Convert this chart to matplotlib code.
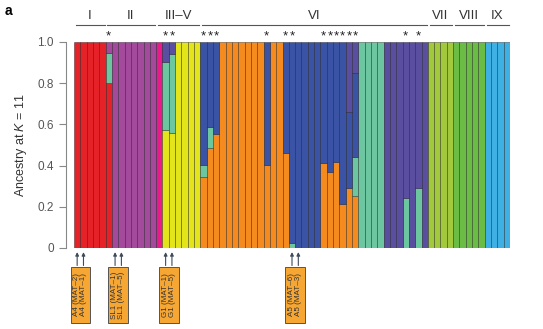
import numpy as np
import pandas as pd
import matplotlib.pyplot as plt
from matplotlib.patches import Rectangle

plt.rcParams['font.family'] = ['Liberation Sans', 'DejaVu Sans']
plt.rcParams['mathtext.fontset'] = 'custom'
plt.rcParams['mathtext.rm'] = 'Liberation Sans'
plt.rcParams['mathtext.it'] = 'Liberation Sans:italic'

# ancestry clusters in stacking order (bottom -> top)
clusters = ['red', 'magenta', 'yellow', 'orange', 'teal', 'blue',
            'purple', 'indigo', 'lime', 'green', 'sky']
colors = {'red': '#e52228', 'magenta': '#ea1a8b', 'yellow': '#e4e41a',
          'orange': '#f58a1f', 'teal': '#6cc6a0', 'blue': '#3a53a4',
          'purple': '#a34a9d', 'indigo': '#5a4ea1', 'lime': '#a1c93b',
          'green': '#6bbc45', 'sky': '#3fb0e3'}

# dominant cluster of each of the 69 samples
main = (['red'] * 6 + ['purple'] * 7 + ['magenta'] + ['yellow'] * 6 +
        ['orange'] * 13 + ['blue'] * 12 + ['teal'] * 4 + ['indigo'] * 7 +
        ['lime'] * 4 + ['green'] * 5 + ['sky'] * 4)

# admixed samples
admix = {
    5: {'red': 0.80, 'teal': 0.148, 'purple': 0.052},
    14: {'yellow': 0.573, 'teal': 0.332, 'indigo': 0.095},
    15: {'yellow': 0.56, 'teal': 0.382, 'indigo': 0.058},
    20: {'orange': 0.346, 'teal': 0.057, 'blue': 0.597},
    21: {'orange': 0.484, 'teal': 0.105, 'blue': 0.411},
    22: {'orange': 0.552, 'blue': 0.448},
    30: {'orange': 0.403, 'blue': 0.597},
    33: {'orange': 0.463, 'blue': 0.537},
    34: {'teal': 0.023, 'blue': 0.977},
    39: {'orange': 0.411, 'blue': 0.589},
    40: {'orange': 0.37, 'blue': 0.63},
    41: {'orange': 0.416, 'blue': 0.584},
    42: {'orange': 0.212, 'blue': 0.788},
    43: {'orange': 0.293, 'blue': 0.366, 'indigo': 0.341},
    44: {'orange': 0.254, 'teal': 0.189, 'blue': 0.405, 'indigo': 0.152},
    52: {'teal': 0.244, 'indigo': 0.756},
    54: {'teal': 0.293, 'indigo': 0.707},
}

star_bars = [5, 14, 15, 20, 21, 22, 30, 33, 34, 39, 40, 41, 42, 43, 44, 52, 54]

groups = ['I', 'II', 'III–V', 'VI', 'VII', 'VIII', 'IX']
group_edges = [0, 5, 13, 20, 56, 60, 65, 69]

marked = [(0, 1), (6, 7), (14, 15), (34, 35)]
marked_labels = ['A4 (MAT–2)\nA4 (MAT–1)', 'SL1 (MAT–1)\nSL1 (MAT–5)',
                 'G1 (MAT–1)\nG1 (MAT–5)', 'A5 (MAT–6)\nA5 (MAT–3)']

n = len(main)
q = pd.DataFrame(0.0, index=range(n), columns=clusters)
for i, c in enumerate(main):
    q.loc[i, c] = 1.0
for i, d in admix.items():
    q.loc[i, :] = 0.0
    for c, v in d.items():
        q.loc[i, c] = v

fig = plt.figure(figsize=(5.43, 3.29), dpi=100)
ax = fig.add_axes([74 / 543, 1 - 248 / 329, 436 / 543, 206 / 329])

x = np.arange(n)
bottom = np.zeros(n)
for c in clusters:
    v = q[c].values
    m = v > 0
    ax.bar(x[m], v[m], bottom=bottom[m], width=1, align='edge',
           color=colors[c], edgecolor=(0, 0, 0, 0.4), linewidth=0.6)
    bottom += v

ax.set_xlim(0, n)
ax.set_ylim(0, 1)
ax.set_xticks([])
ax.set_yticks([0, 0.2, 0.4, 0.6, 0.8, 1.0])
ax.set_yticklabels(['0', '0.2', '0.4', '0.6', '0.8', '1.0'])
ax.tick_params(axis='y', colors='#888888', labelcolor='#555555', labelsize=8.5,
               length=5, width=0.8)
for s in ['top', 'right', 'bottom']:
    ax.spines[s].set_visible(False)
ax.spines['left'].set_position(('outward', 6))
ax.spines['left'].set_color('#888888')
ax.spines['left'].set_linewidth(0.8)
ax.set_ylabel('Ancestry at $K$ = 11', fontsize=9, color='#333333', labelpad=6)

tr = ax.get_xaxis_transform()

# group labels and brackets
for g, a, b in zip(groups, group_edges[:-1], group_edges[1:]):
    ax.plot([a + 0.3, b - 0.15], [1.083, 1.083], color='#555555', lw=0.8,
            transform=tr, clip_on=False)
    ax.text((a + b) / 2, 1.125, g, transform=tr, ha='center', va='center',
            fontsize=9.5, color='#333333')

for i in star_bars:
    ax.text(i + 0.5, 1.025, '*', transform=tr, ha='center', va='center',
            fontsize=9.5, color='#222222')

# marked samples
for (a, b), lab in zip(marked, marked_labels):
    for i in (a, b):
        ax.annotate('', xy=(i + 0.5, -0.02), xytext=(i + 0.5, -0.085),
                    xycoords=tr, textcoords=tr,
                    arrowprops=dict(arrowstyle='-|>', color='#3d4b5c', lw=0.8,
                                    mutation_scale=5, shrinkA=0, shrinkB=0))
    cx = (a + b) / 2 + 0.5
    ax.add_patch(Rectangle((cx - 1.55, -0.362), 3.1, 0.268, transform=tr,
                           facecolor='#f5a633', edgecolor='#555555', lw=0.7,
                           clip_on=False))
    ax.text(cx, -0.228, lab, transform=tr, rotation=90, ha='center',
            va='center', fontsize=5.8, color='#333333', linespacing=1.05)

fig.text(5 / 543, 1 - 11 / 329, 'a', fontsize=10, fontweight='bold',
         ha='left', va='center')

fig.savefig('out.png', dpi=100)
